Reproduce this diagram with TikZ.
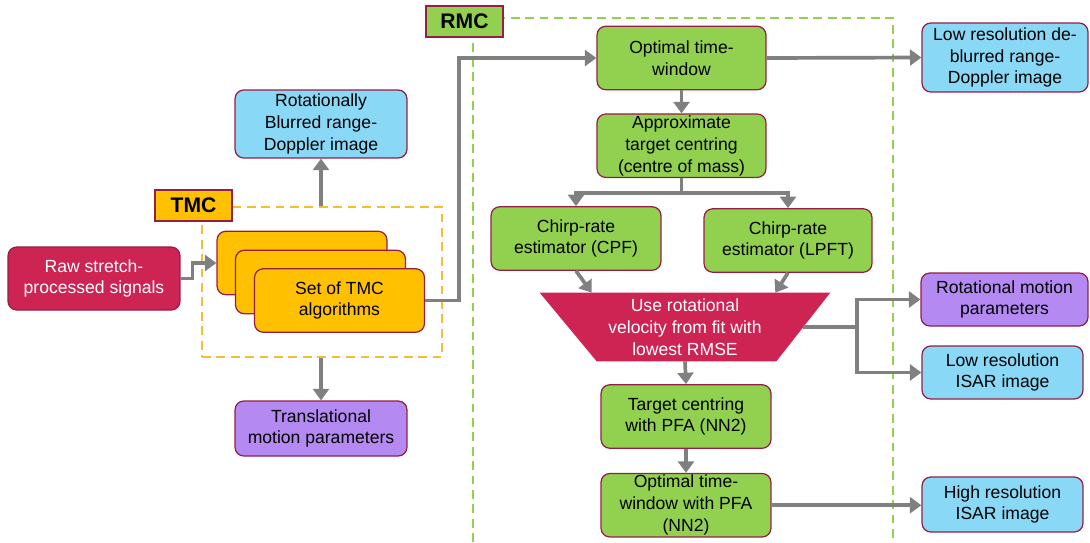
\documentclass[tikz,border=0pt]{standalone}
\usepackage{fontspec}
\setmainfont{Liberation Sans}
\usepackage{tikz}
\usetikzlibrary{arrows.meta}
\usetikzlibrary{calc}
\usetikzlibrary{positioning}
\definecolor{Crimson}{RGB}{205,36,84}
\definecolor{Edge}{RGB}{150,30,70}
\definecolor{Amber}{RGB}{255,192,0}
\definecolor{Leaf}{RGB}{146,208,80}
\definecolor{Sky}{RGB}{137,216,245}
\definecolor{Lilac}{RGB}{181,137,242}
\definecolor{Dash}{RGB}{242,190,50}
\colorlet{Wire}{black!50}

\tikzset{
  blk/.style={draw=Edge, line width=0.7pt, rounded corners=5pt, align=center,
    font=\fontsize{10}{12.4}\selectfont, inner sep=1pt,
    minimum width=3.4cm, minimum height=1.27cm},
  redblk/.style={blk, fill=Crimson, text=white},
  ylwblk/.style={blk, fill=Amber},
  grnblk/.style={blk, fill=Leaf},
  blublk/.style={blk, fill=Sky},
  purblk/.style={blk, fill=Lilac},
  tag/.style={draw=Edge, line width=0.7pt, font=\fontsize{12}{14}\selectfont\bfseries,
    minimum width=1.54cm, minimum height=0.62cm, inner sep=0pt},
  frame/.style={line width=1.4pt, dash pattern=on 5pt off 3.2pt},
  flow/.style={draw=Wire, line width=2.1pt, -{Triangle[length=6.5pt,width=9pt]}},
  link/.style={draw=Wire, line width=2.1pt},
}

\begin{document}
\begin{tikzpicture}[x=0.02cm, y=-0.02cm]
        \useasboundingbox (0,0) rectangle (1090,542);

        % TMC part
        \node[frame, draw=Dash, minimum width=4.8cm, minimum height=3cm] (TMCbox) at (322,282) {};
        \node[redblk, minimum width=3.44cm, minimum height=1.26cm] (Raw) at (94,278.5) {Raw stretch-\\processed signals};
        \node[ylwblk] (TMC3) at (302,263) {};
        \node[ylwblk] (TMC2) at ($(TMC3)+(18.5,19)$) {};
        \node[ylwblk] (TMC1) at ($(TMC2)+(19,18.5)$) {Set of TMC\\algorithms};
        \node[tag, fill=Amber] (TMCtag) at (193.5,205.5) {TMC};
        \node[blublk, minimum width=3.44cm, minimum height=1.36cm] (RBRD) at (321,124) {Rotationally\\Blurred range-\\Doppler image};
        \node[purblk, minimum width=3.44cm, minimum height=1.1cm] (TMP) at (321,428.5) {Translational\\motion parameters};

        % RMC part
        \draw[frame, draw=Leaf] (473,542) -- (473,18) -- (893,18) -- (893,542);
        \node[tag, fill=Leaf] (RMCtag) at (464.5,21.5) {RMC};
        \node[grnblk, minimum width=3.38cm] (OTW) at (681.5,58) {Optimal time-\\window};
        \node[grnblk, minimum width=3.38cm, below=0.46cm of OTW] (ApxC) {Approximate\\target centring\\(centre of mass)};
        \node[grnblk] (CPF) at (576,238.5) {Chirp-rate\\estimator (CPF)};
        \node[grnblk, minimum width=3.36cm] (LPFT) at (788,240.5) {Chirp-rate\\estimator (LPFT)};
        \node[minimum width=5.8cm, minimum height=1.36cm, inner sep=0pt] (Trap) at (685,327) {};
        \coordinate (TrBR) at ($(Trap.south east)+(-54,0)$);
        \coordinate (TrBL) at ($(Trap.south west)+(57,0)$);
        \fill[Crimson] (Trap.north west) -- (Trap.north east) -- (TrBR) -- (TrBL) -- cycle;
        \node[align=center, text=white, font=\fontsize{10}{12.4}\selectfont] (TrapTxt) at (Trap) {Use rotational\\velocity from fit with\\lowest RMSE};
        \node[grnblk] (TCP) at (686,416.5) {Target centring\\with PFA (NN2)};
        \node[grnblk, below=0.48cm of TCP] (OTP) {Optimal time-\\window with PFA\\(NN2)};

        % outputs
        \node[blublk, minimum width=3.32cm, minimum height=1.38cm] (LRD) at (1005,57.5) {Low resolution de-\\blurred range-\\Doppler image};
        \node[purblk, minimum width=3.34cm, minimum height=1.06cm] (RMP) at (1004.5,299.5) {Rotational motion\\parameters};
        \node[blublk, minimum width=3.22cm, minimum height=1.06cm] (LRI) at (1002.5,372.5) {Low resolution\\ISAR image};
        \node[blublk, minimum width=3.22cm, minimum height=1.1cm] (HRI) at (1002.5,504.5) {High resolution\\ISAR image};

        % edges
        \draw[flow] (Raw.east) -- ++(12,0) |- (TMC3.west);
        \draw[flow] (TMCbox.north -| RBRD) -- (RBRD.south);
        \draw[flow] (TMCbox.south -| TMP) -- (TMP.north);
        \draw[flow] (TMC1.east) -- ++(34,0) |- (OTW.west);
        \draw[flow] (OTW.east) -- (LRD.west);
        \draw[flow] (OTW.south) -- (ApxC.north);
        \draw[flow] (ApxC.south) -- ++(0,15) -| (CPF.north);
        \draw[flow] (ApxC.south) -- ++(0,15) -| (LPFT.north);
        \draw[flow] (CPF.south) -- ($(Trap.north west)+(52,0)$);
        \draw[flow] (LPFT.south) -- ($(Trap.north east)+(-55,0)$);
        \coordinate (TrR) at ($(Trap.north east)!0.5!(TrBR)$);
        \draw[link] (TrR) -- ++(54,0) coordinate (Fork);
        \draw[flow] (Fork) |- (RMP.west);
        \draw[flow] (Fork) |- (LRI.west);
        \draw[flow] (Trap.south) -- (TCP.north);
        \draw[flow] (TCP.south) -- (OTP.north);
        \draw[flow] (OTP.east) -- (OTP.east -| HRI.west);
\end{tikzpicture}
\end{document}
